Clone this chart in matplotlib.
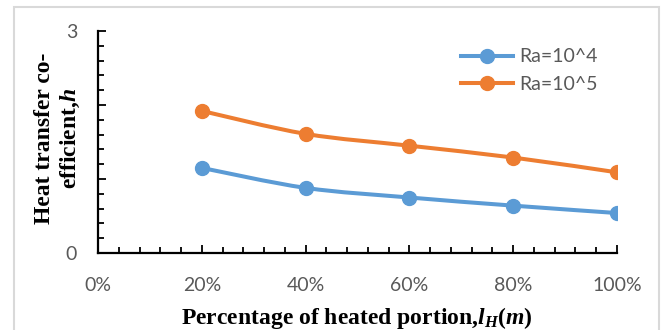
import numpy as np
import matplotlib.pyplot as plt
from matplotlib.path import Path
from matplotlib.patches import PathPatch, Rectangle
from matplotlib.lines import Line2D
from matplotlib.ticker import MultipleLocator, FixedLocator, FuncFormatter

# heated portion (fraction of wall) and heat transfer coefficient h
portion = [0.2, 0.4, 0.6, 0.8, 1.0]
h_ra4 = [1.15, 0.88, 0.75, 0.64, 0.54]
h_ra5 = [1.92, 1.61, 1.45, 1.29, 1.09]
labels = ['Ra=10^4', 'Ra=10^5']
colors = ['#5B9BD5', '#ED7D31']

tick_font = 'Lato'
tick_color = '#595959'

plt.rcParams['mathtext.fontset'] = 'custom'
plt.rcParams['mathtext.rm'] = 'Liberation Serif:bold'
plt.rcParams['mathtext.it'] = 'Liberation Serif:italic:bold'
plt.rcParams['mathtext.bf'] = 'Liberation Serif:italic:bold'


def smooth_path(x, y, k=1/6):
    # Catmull-Rom style bezier through the points (spreadsheet "smoothed line")
    x = np.asarray(x, float)
    y = np.asarray(y, float)
    verts = [(x[0], y[0])]
    codes = [Path.MOVETO]
    n = len(x)
    for i in range(n - 1):
        x0, y0 = (x[i - 1], y[i - 1]) if i > 0 else (x[i], y[i])
        x3, y3 = (x[i + 2], y[i + 2]) if i + 2 < n else (x[i + 1], y[i + 1])
        c1 = (x[i] + (x[i + 1] - x0) * k, y[i] + (y[i + 1] - y0) * k)
        c2 = (x[i + 1] - (x3 - x[i]) * k, y[i + 1] - (y3 - y[i]) * k)
        verts += [c1, c2, (x[i + 1], y[i + 1])]
        codes += [Path.CURVE4] * 3
    return Path(verts, codes)


fig = plt.figure(figsize=(6.65, 3.3), dpi=100)
ax = fig.add_axes([98/665, 1 - 253/330, (617 - 98)/665, (253 - 31)/330])

for ys, c in zip([h_ra4, h_ra5], colors):
    ax.add_patch(PathPatch(smooth_path(portion, ys), fill=False, edgecolor=c,
                           lw=2.9, capstyle='round', joinstyle='round', zorder=2))
    ax.plot(portion, ys, 'o', color=c, ms=10, zorder=3)

ax.set_xlim(0, 1)
ax.set_ylim(0, 3)

for s in ['top', 'right']:
    ax.spines[s].set_visible(False)
for s in ['left', 'bottom']:
    ax.spines[s].set_linewidth(1.6)
    ax.spines[s].set_color('black')

ax.xaxis.set_major_locator(MultipleLocator(0.2))
ax.xaxis.set_minor_locator(MultipleLocator(0.04))
ax.xaxis.set_major_formatter(FuncFormatter(lambda v, p: '%d%%' % round(v * 100)))
ax.yaxis.set_major_locator(FixedLocator([0, 1, 2, 3]))
ax.yaxis.set_minor_locator(MultipleLocator(0.2))
ax.yaxis.set_major_formatter(FuncFormatter(lambda v, p: '%d' % v if v in (0, 3) else ''))

ax.tick_params(which='both', direction='in', color='black', width=1.3)
ax.tick_params(which='major', length=6)
ax.tick_params(which='minor', length=4)
ax.tick_params(axis='x', which='major', pad=17)
ax.tick_params(axis='y', which='major', pad=15)
for t in ax.get_xticklabels() + ax.get_yticklabels():
    t.set_fontfamily(tick_font)
    t.set_fontsize(14)
    t.set_color(tick_color)

serif = dict(fontfamily='Liberation Serif', fontweight='bold', fontsize=17)
fig.text(357/665, 1 - 318/330, r'Percentage of heated portion,$\mathit{l}_\mathit{H}\mathit{(m)}$',
         ha='center', va='center', **serif)
fig.text(45/665, 1 - 138/330, 'Heat transfer co-', rotation=90, ha='center', va='center', **serif)
fig.text(70/665, 1 - 138/330, r'efficient,$\mathit{h}$', rotation=90, ha='center', va='center', **serif)

handles = [Line2D([], [], color=c, lw=2.9, marker='o', ms=10) for c in colors]
leg = ax.legend(handles, labels, loc='upper left', bbox_to_anchor=(0.665, 1.0),
                frameon=False, handlelength=2.7, handletextpad=0.3, labelspacing=0.55,
                prop={'family': tick_font, 'size': 14})
for t in leg.get_texts():
    t.set_color(tick_color)

# chart frame
fig.patches.append(Rectangle((14/665, -0.05), (659 - 14)/665, 1 - 7/330 + 0.05,
                             transform=fig.transFigure, fill=False,
                             edgecolor='#D9D9D9', lw=1.5))

fig.savefig('out.png', dpi=100)
